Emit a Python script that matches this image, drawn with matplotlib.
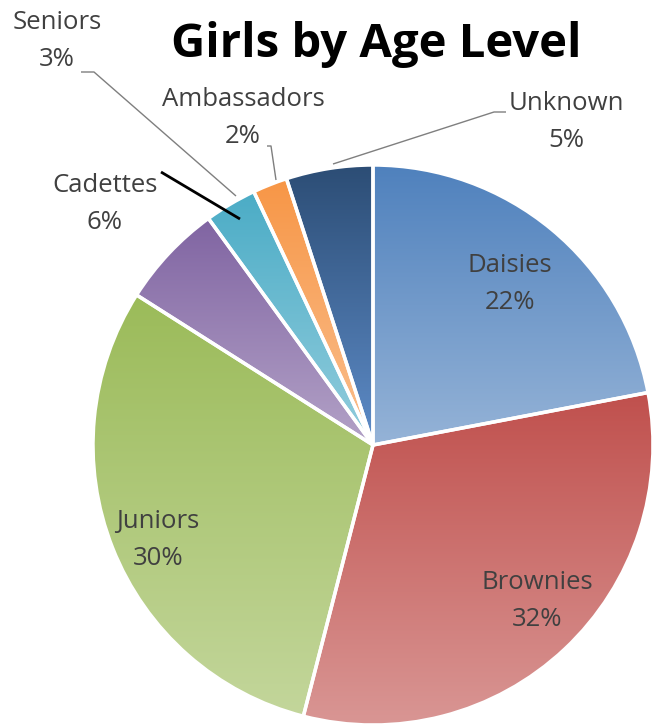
import numpy as np
import matplotlib.pyplot as plt
from matplotlib.colors import to_rgb

# data
levels = ['Daisies', 'Brownies', 'Juniors', 'Cadettes', 'Seniors', 'Ambassadors', 'Unknown']
shares = [22, 32, 30, 6, 3, 2, 5]

# gradient colours, top -> bottom of each slice
top_cols = ['#4F81BD', '#C0504D', '#9BBB59', '#8064A2', '#4BACC6', '#F79646', '#2C4D75']
bot_cols = ['#95B3D7', '#D99694', '#C3D69B', '#B3A2C7', '#93CDDD', '#FAC090', '#5E8CC8']

W, H = 652, 728
# label centres in pixel coords (from top-left)
label_pos = {'Daisies': (510, 284), 'Brownies': (537, 601), 'Juniors': (158, 540),
             'Cadettes': (105, 204), 'Seniors': (57, 41), 'Ambassadors': (243, 118),
             'Unknown': (566, 122)}
# leader lines (text side points, pixels), end point is on the slice
leaders = {'Seniors': ([81, 94, 236], [72, 72, 196], '#7f7f7f', 1.0),
           'Ambassadors': ([267, 271, 276], [146, 146, 180], '#7f7f7f', 1.0),
           'Unknown': ([506, 494, 333], [112, 112, 164], '#7f7f7f', 1.0),
           'Cadettes': ([161, 240], [172, 219], 'black', 2.0)}

plt.rcParams['font.family'] = ['Open Sans', 'DejaVu Sans']

fig = plt.figure(figsize=(W / 100, H / 100), dpi=100)
ax = fig.add_axes([0, 0, 1, 1])

cx, cy, r = 373, H - 445, 280
wedges, _ = ax.pie(shares, startangle=90, counterclock=False, center=(cx, cy),
                   radius=r, colors=top_cols, wedgeprops=dict(linewidth=0))

grad = np.linspace(0, 1, 256)[:, None, None]
for w, c0, c1 in zip(wedges, top_cols, bot_cols):
    ext = w.get_path().get_extents()
    a, b = np.array(to_rgb(c0)), np.array(to_rgb(c1))
    img = a + (b - a) * grad
    im = ax.imshow(img, extent=(ext.x0, ext.x1, ext.y0, ext.y1), origin='upper',
                   aspect='auto', interpolation='bilinear', zorder=1)
    im.set_clip_path(w)
    w.set_facecolor('none')
    w.set_edgecolor('white')
    w.set_linewidth(2.5)
    w.set_zorder(2)

for name, s in zip(levels, shares):
    x, y = label_pos[name]
    ax.text(x, H - y, f'{name}\n{s}%', ha='center', va='center', fontsize=18.5,
            color='#404040', linespacing=1.6, zorder=4)

for name, (xs, ys, c, lw) in leaders.items():
    ax.plot(xs, [H - v for v in ys], color=c, lw=lw, zorder=3, solid_capstyle='butt')

ax.text(376, H - 44, 'Girls by Age Level', ha='center', va='center', fontsize=34,
        fontweight='bold', color='black')

ax.set_xlim(0, W)
ax.set_ylim(0, H)
ax.set_aspect('auto')
ax.axis('off')
fig.savefig('out.png', dpi=100)
